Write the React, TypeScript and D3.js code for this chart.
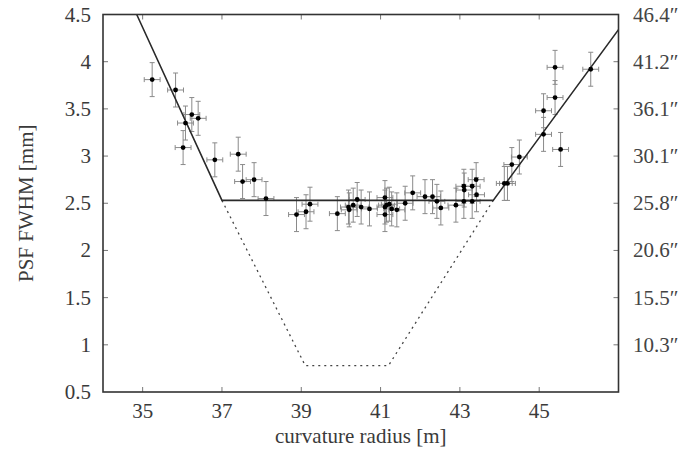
import React from "react";
import * as d3 from "d3";

const radius = [35.24, 35.83, 36.02, 36.08, 36.24, 36.40, 36.82, 37.41, 37.52, 37.81, 38.11, 38.88, 39.12, 39.22, 39.91, 40.19, 40.21, 40.31, 40.41, 40.51, 40.72, 41.11, 41.11, 41.15, 41.22, 41.11, 41.28, 41.41, 41.62, 41.81, 42.12, 42.31, 42.42, 42.52, 42.90, 43.10, 43.11, 43.10, 43.31, 43.41, 43.42, 43.31, 44.12, 44.20, 44.31, 44.50, 45.11, 45.11, 45.40, 45.40, 45.54, 46.30];
const fwhm = [3.81, 3.70, 3.09, 3.35, 3.44, 3.40, 2.96, 3.02, 2.73, 2.75, 2.55, 2.38, 2.41, 2.49, 2.39, 2.46, 2.43, 2.48, 2.54, 2.46, 2.44, 2.56, 2.46, 2.48, 2.49, 2.38, 2.44, 2.43, 2.50, 2.61, 2.57, 2.57, 2.52, 2.45, 2.48, 2.68, 2.64, 2.52, 2.68, 2.75, 2.59, 2.52, 2.71, 2.71, 2.91, 2.99, 3.48, 3.23, 3.94, 3.62, 3.07, 3.92];
const xErr = 0.2;
const yErr = 0.18;

const modelX = [34.85, 37.0, 43.84, 47.0];
const modelY = [4.5, 2.53, 2.53, 4.34];
const idealX = [37.0, 39.1, 41.2, 43.84];
const idealY = [2.53, 0.78, 0.78, 2.53];

const xTicks = [35, 37, 39, 41, 43, 45];
const yTicks = [0.5, 1, 1.5, 2, 2.5, 3, 3.5, 4, 4.5];
const yTickLabels = ["0.5", "1", "1.5", "2", "2.5", "3", "3.5", "4", "4.5"];
const rightTicks = [1, 1.5, 2, 2.5, 3, 3.5, 4, 4.5];
const rightLabels = ["10.3″", "15.5″", "20.6″", "25.8″", "30.1″", "36.1″", "41.2″", "46.4″"];

const L = 103, R = 618.5, T = 14.5, B = 392;

export default function App() {
  const x = d3.scaleLinear().domain([34, 47]).range([L, R]);
  const y = d3.scaleLinear().domain([0.5, 4.5]).range([B, T]);
  const line = d3.line<[number, number]>().x(d => x(d[0])).y(d => y(d[1]));
  const model = modelX.map((v, i) => [v, modelY[i]] as [number, number]);
  const ideal = idealX.map((v, i) => [v, idealY[i]] as [number, number]);
  const font = "'Liberation Serif', 'Times New Roman', serif";
  const tc = "#3a3a3a";
  const cap = 2.5;
  return (
    <svg width={686} height={450} style={{ position: "absolute", left: 0, top: 0, background: "#fff" }}>
      <defs>
        <clipPath id="plot"><rect x={L} y={T} width={R - L} height={B - T} /></clipPath>
      </defs>
      {xTicks.map(t => (
        <g key={"xt" + t} stroke="#777" strokeWidth={1}>
          <line x1={x(t)} x2={x(t)} y1={B} y2={B - 5} />
          <line x1={x(t)} x2={x(t)} y1={T} y2={T + 5} />
        </g>
      ))}
      {yTicks.slice(1, -1).map(t => (
        <line key={"yt" + t} x1={L} x2={L + 5} y1={y(t)} y2={y(t)} stroke="#777" strokeWidth={1} />
      ))}
      {rightTicks.slice(0, -1).map(t => (
        <line key={"rt" + t} x1={R} x2={R - 5} y1={y(t)} y2={y(t)} stroke="#777" strokeWidth={1} />
      ))}
      <g clipPath="url(#plot)">
        <path d={line(ideal) || ""} fill="none" stroke="#444" strokeWidth={1.3} strokeDasharray="2,4" />
        {radius.map((r, i) => (
          <g key={"e" + i} stroke="#8a8a8a" strokeWidth={1} fill="none">
            <line x1={x(r)} x2={x(r)} y1={y(fwhm[i] - yErr)} y2={y(fwhm[i] + yErr)} />
            <line x1={x(r) - cap} x2={x(r) + cap} y1={y(fwhm[i] - yErr)} y2={y(fwhm[i] - yErr)} />
            <line x1={x(r) - cap} x2={x(r) + cap} y1={y(fwhm[i] + yErr)} y2={y(fwhm[i] + yErr)} />
            <line x1={x(r - xErr)} x2={x(r + xErr)} y1={y(fwhm[i])} y2={y(fwhm[i])} />
            <line x1={x(r - xErr)} x2={x(r - xErr)} y1={y(fwhm[i]) - cap} y2={y(fwhm[i]) + cap} />
            <line x1={x(r + xErr)} x2={x(r + xErr)} y1={y(fwhm[i]) - cap} y2={y(fwhm[i]) + cap} />
          </g>
        ))}
        <path d={line(model) || ""} fill="none" stroke="#2a2a2a" strokeWidth={1.6} />
        {radius.map((r, i) => (
          <circle key={"p" + i} cx={x(r)} cy={y(fwhm[i])} r={2.4} fill="#000" />
        ))}
      </g>
      <rect x={L} y={T} width={R - L} height={B - T} fill="none" stroke="#333" strokeWidth={1.6} />
      {xTicks.map(t => (
        <text key={"xl" + t} x={x(t)} y={418} textAnchor="middle" fontFamily={font} fontSize={21} fill={tc}>{t}</text>
      ))}
      {yTicks.map((t, i) => (
        <text key={"yl" + t} x={91} y={y(t) + 7} textAnchor="end" fontFamily={font} fontSize={21} fill={tc}>{yTickLabels[i]}</text>
      ))}
      {rightTicks.map((t, i) => (
        <text key={"rl" + t} x={633} y={y(t) + 7} textAnchor="start" fontFamily={font} fontSize={21} fill="#444">{rightLabels[i]}</text>
      ))}
      <text x={(L + R) / 2} y={443} textAnchor="middle" fontFamily={font} fontSize={21} fill={tc}>curvature radius [m]</text>
      <text transform={`translate(33,${(T + B) / 2}) rotate(-90)`} textAnchor="middle" fontFamily={font} fontSize={21} fill={tc}>PSF FWHM [mm]</text>
    </svg>
  );
}
